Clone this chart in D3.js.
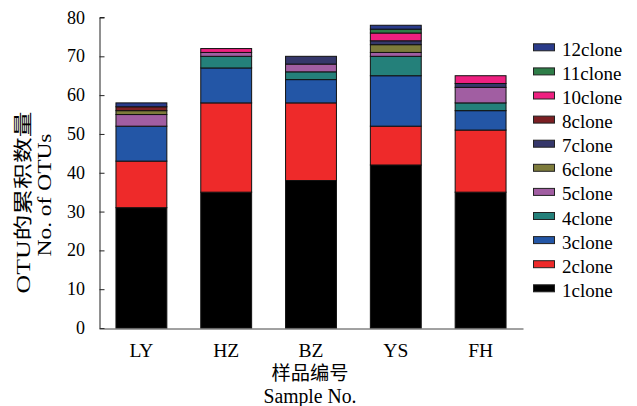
<!DOCTYPE html>
<html><head><meta charset="utf-8">
<script src="https://cdn.jsdelivr.net/npm/d3@7"></script>
<style>
body{margin:0;background:#fff;}
svg{display:block;}
text{font-family:"Liberation Serif","Times New Roman","Noto Sans CJK SC",serif;fill:#000;font-weight:normal;}
</style></head><body>
<svg id="c" width="637" height="406"></svg>
<script>
const categories = ["LY","HZ","BZ","YS","FH"];
const seriesKeys = ["1clone","2clone","3clone","4clone","5clone","6clone","7clone","8clone","10clone","11clone","12clone"];
const clone1  = [31,35,38,42,35];
const clone2  = [12,23,20,10,16];
const clone3  = [9,9,6,13,5];
const clone4  = [0,3,2,5,2];
const clone5  = [3,1,2,1,4];
const clone6  = [1,0,0,2,0];
const clone7  = [0,0,2,1,1];
const clone8  = [1,0,0,0,0];
const clone10 = [0,1,0,2,2];
const clone11 = [0,0,0,1,0];
const clone12 = [1,0,0,1,0];
const seriesValues = [clone1,clone2,clone3,clone4,clone5,clone6,clone7,clone8,clone10,clone11,clone12];
const colors = ["#000000","#ee2a2a","#2356a6","#24807a","#a15ea2","#7d7b3b","#35376a","#7b1f23","#ee2080","#2e7d48","#2a3b8a"];
const yTicks = [0,10,20,30,40,50,60,70,80];

const table = categories.map((c,i)=>{
  const row = {cat:c};
  seriesKeys.forEach((k,j)=>row[k]=seriesValues[j][i]);
  return row;
});

const svg = d3.select("#c");
const x = d3.scaleBand().domain(categories).range([99,523]).paddingInner(0.4).paddingOuter(0.2);
const y = d3.scaleLinear().domain([0,80]).range([328,17.5]);
const color = d3.scaleOrdinal().domain(seriesKeys).range(colors);

const stack = d3.stack().keys(seriesKeys)(table);

svg.append("g").selectAll("g").data(stack).join("g")
  .attr("fill", d=>color(d.key))
  .selectAll("rect").data(d=>d.filter(p=>p[1]-p[0]>0)).join("rect")
  .attr("x", d=>x(d.data.cat))
  .attr("width", x.bandwidth())
  .attr("y", d=>y(d[1]))
  .attr("height", d=>y(d[0])-y(d[1]))
  .attr("stroke","#111").attr("stroke-width",1);

// y axis (ticks inward)
const ya = svg.append("g").attr("transform","translate(99.5,0)")
  .call(d3.axisRight(y).tickValues(yTicks).tickSize(5).tickFormat(""));
ya.select(".domain").attr("stroke","#222").attr("d","M5,17.5H0.5V328");
ya.selectAll(".tick line").attr("stroke","#222");
svg.append("g").selectAll("text").data(yTicks).join("text")
  .attr("x",85).attr("y",d=>y(d)+6).attr("text-anchor","end")
  .style("font-size","18px").text(d=>d);

// x axis
const xa = svg.append("g").attr("transform","translate(0,328.5)")
  .call(d3.axisBottom(x).tickSize(0).tickPadding(0));
xa.select(".domain").attr("stroke","#444");
xa.selectAll(".tick text").attr("dy",null).attr("y",28.5).style("font-size","19.5px");

// axis titles
svg.append("text").attr("x",310).attr("y",380).attr("text-anchor","middle")
  .style("font-size","19px").attr("textLength",77).attr("lengthAdjust","spacingAndGlyphs").text("样品编号");
svg.append("text").attr("x",310).attr("y",402.5).attr("text-anchor","middle")
  .style("font-size","20px").attr("textLength",93).attr("lengthAdjust","spacingAndGlyphs").text("Sample No.");
svg.append("text").attr("transform","translate(30,202.5) rotate(-90)").attr("text-anchor","middle")
  .style("font-size","19px").attr("textLength",182).attr("lengthAdjust","spacingAndGlyphs").text("OTU的累积数量");
svg.append("text").attr("transform","translate(51,195) rotate(-90)").attr("text-anchor","middle")
  .style("font-size","18px").attr("textLength",123).attr("lengthAdjust","spacingAndGlyphs").text("No. of OTUs");

// legend
const legendKeys = seriesKeys.slice().reverse();
const lg = svg.append("g").selectAll("g").data(legendKeys).join("g")
  .attr("transform",(d,i)=>`translate(533,${47.3+i*24.1})`);
lg.append("rect").attr("x",0.5).attr("y",-3.5).attr("width",21).attr("height",7)
  .attr("fill",d=>color(d)).attr("stroke","#222").attr("stroke-width",1);
lg.append("text").attr("x",29).attr("y",8.5).style("font-size","19px").text(d=>d);
</script>
</body></html>
